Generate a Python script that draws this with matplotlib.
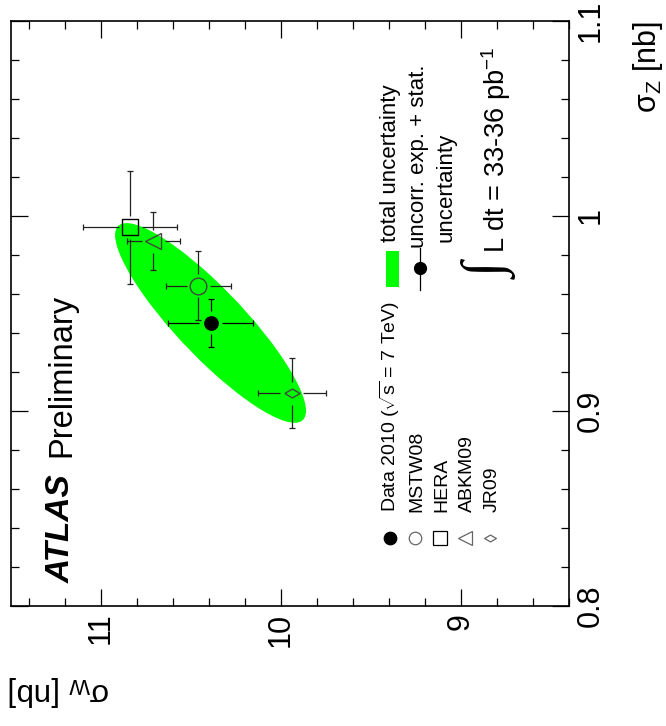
import numpy as np
import matplotlib
matplotlib.use("Agg")
import matplotlib.pyplot as plt
from matplotlib.patches import Ellipse, Rectangle
from matplotlib.ticker import MultipleLocator, FixedLocator

plt.rcParams['font.family'] = ['Liberation Sans', 'DejaVu Sans']
plt.rcParams['mathtext.fontset'] = 'custom'
plt.rcParams['mathtext.rm'] = 'Liberation Sans'
plt.rcParams['mathtext.it'] = 'Liberation Sans:italic'
plt.rcParams['mathtext.bf'] = 'Liberation Sans:bold'

# === 1. Data: sigma_W vs sigma_Z [nb] ===
labels = ["Data 2010 ($\\sqrt{\\mathrm{s}}$ = 7 TeV)", "MSTW08", "HERA", "ABKM09", "JR09"]
sigma_w = [10.39, 10.458, 10.837, 10.708, 9.939]
sigma_w_err = [0.238, 0.179, 0.263, 0.148, 0.19]
sigma_z = [0.945, 0.964, 0.994, 0.987, 0.909]
sigma_z_err = [0.0124, 0.0177, 0.029, 0.015, 0.018]

# total uncertainty ellipse of the measurement
ell_w_err = 0.53
ell_z_err = 0.0512
ell_corr = 0.88

w_ticks = [9, 10, 11]
z_ticks = [0.8, 0.9, 1.0, 1.1]
z_tick_labels = ["0.8", "0.9", "1", "1.1"]

# === 2. Styles ===
GREEN = "#00ff00"
DIAMOND = [(-1, 0), (0, 0.58), (1, 0), (0, -0.58), (-1, 0)]
markers = ["o", "o", "s", "<", DIAMOND]
msizes = [9.6, 12, 11, 11, 11]
faces = ["black", "none", "none", "none", "none"]
edges = ["black", "#444444", "black", "#444444", "#444444"]
leg_msizes = [9, 9, 9.5, 10, 8.5]

W, H = 6.66, 7.26
fig = plt.figure(figsize=(W, H), dpi=100)
ax = fig.add_axes([0.0159, 0.1657, 0.8385, 0.8058])
XMIN, XMAX = 11.5, 8.4
ax.set_xlim(XMIN, XMAX)
ax.set_ylim(0.8, 1.1)

# pixel -> data scale for the gap around markers
ax_w_px = 0.8385 * W * 100
ax_h_px = 0.8058 * H * 100
GAP = 11.5
gap_w = GAP * abs(XMAX - XMIN) / ax_w_px
gap_z = GAP * 0.3 / ax_h_px

# ellipse
cov = np.array([[ell_w_err**2, ell_corr * ell_w_err * ell_z_err],
                [ell_corr * ell_w_err * ell_z_err, ell_z_err**2]])
vals, vecs = np.linalg.eigh(cov)
angle = np.degrees(np.arctan2(vecs[1, 1], vecs[0, 1]))
ax.add_patch(Ellipse((sigma_w[0], sigma_z[0]), 2 * np.sqrt(vals[1]), 2 * np.sqrt(vals[0]),
                     angle=angle, facecolor=GREEN, edgecolor="none", zorder=1))

# points with ROOT-like error bars (gap around the marker)
for i in range(len(sigma_w)):
    x, y, ex, ey = sigma_w[i], sigma_z[i], sigma_w_err[i], sigma_z_err[i]
    lc = "black" if i == 0 else "#222222"
    ax.hlines([y, y], [x - ex, x + gap_w], [x - gap_w, x + ex], color=lc, lw=0.9, zorder=3)
    ax.vlines([x, x], [y - ey, y + gap_z], [y - gap_z, y + ey], color=lc, lw=0.9, zorder=3)
    ax.plot([x - ex, x + ex], [y, y], ls="none", marker="|", ms=5, mew=0.9, color=lc, zorder=3)
    ax.plot([x, x], [y - ey, y + ey], ls="none", marker="_", ms=5, mew=0.9, color=lc, zorder=3)
    ax.plot([x], [y], ls="none", marker=markers[i], ms=msizes[i], mfc=faces[i],
            mec=edges[i], mew=1.0, zorder=4)

# axes / ticks
ax.xaxis.set_major_locator(FixedLocator(w_ticks))
ax.xaxis.set_minor_locator(MultipleLocator(0.2))
ax.yaxis.set_major_locator(FixedLocator(z_ticks))
ax.yaxis.set_minor_locator(MultipleLocator(0.02))
ax.set_xticklabels([str(t) for t in w_ticks])
ax.set_yticklabels(z_tick_labels)
ax.tick_params(which="both", direction="in", top=True, bottom=True, left=True, right=True,
               labelleft=False, labelright=True, labelbottom=True, labeltop=False, width=0.9)
ax.tick_params(which="major", length=12, labelsize=22, pad=5)
ax.tick_params(which="minor", length=6)
for t in ax.get_xticklabels():
    t.set_rotation(90)
for t in ax.get_yticklabels():
    t.set_rotation(90)
    t.set_va("center")
for s in ax.spines.values():
    s.set_linewidth(1.2)

# axis titles
ax.text(1.1415, 1.0, "σ$_{\\mathrm{Z}}$ [nb]", transform=ax.transAxes, rotation=90,
        ha="center", va="top", fontsize=22)
ax.text(-0.004, -0.1458, "σ$_{\\mathrm{W}}$ [nb]", transform=ax.transAxes, rotation=180,
        ha="left", va="center", fontsize=22.5)

# ATLAS label
ax.text(0.1064, 0.0388, "ATLAS", transform=ax.transAxes, rotation=90, rotation_mode="anchor",
        ha="left", va="baseline", fontsize=24, fontweight="bold", fontstyle="italic")
ax.text(0.1064, 0.2542, "Preliminary", transform=ax.transAxes, rotation=90, rotation_mode="anchor",
        ha="left", va="baseline", fontsize=23.5)

# legend: predictions
for i in range(len(labels)):
    lx = 0.679 + i * 0.0448
    ax.plot([lx], [0.116], transform=ax.transAxes, ls="none", marker=markers[i],
            ms=leg_msizes[i], mfc=faces[i], mec="black" if i in (0, 2) else "#666666",
            mew=0.9, clip_on=False)
    ax.text(lx + 0.012, 0.160, labels[i], transform=ax.transAxes, rotation=90,
            rotation_mode="anchor", ha="left", va="baseline", fontsize=14)

# legend: uncertainties
ax.add_patch(Rectangle((0.6724, 0.5448), 0.0233, 0.0615, transform=ax.transAxes,
                       facecolor=GREEN, edgecolor="none"))
ax.text(0.6902, 0.6217, "total uncertainty", transform=ax.transAxes, rotation=90,
        rotation_mode="anchor", ha="left", va="baseline", fontsize=16)
ax.plot([0.7334, 0.7334], [0.5397, 0.6114], transform=ax.transAxes, color="black", lw=0.9)
ax.plot([0.7334], [0.5773], transform=ax.transAxes, marker="o", ms=8.5, color="black")
ax.text(0.7403, 0.6114, "uncorr. exp. + stat.", transform=ax.transAxes, rotation=90,
        rotation_mode="anchor", ha="left", va="baseline", fontsize=16)
ax.text(0.7904, 0.6217, "uncertainty", transform=ax.transAxes, rotation=90,
        rotation_mode="anchor", ha="left", va="baseline", fontsize=16)
ax.text(0.8616, 0.5719, "∫", transform=ax.transAxes, rotation=90, ha="center", va="center",
        fontsize=40, family=["Liberation Serif", "DejaVu Serif"])
ax.text(0.8854, 0.6029, "L dt = 33-36 pb$^{-1}$", transform=ax.transAxes, rotation=90,
        rotation_mode="anchor", ha="left", va="baseline", fontsize=19.5)

fig.savefig("out.png", dpi=100)
